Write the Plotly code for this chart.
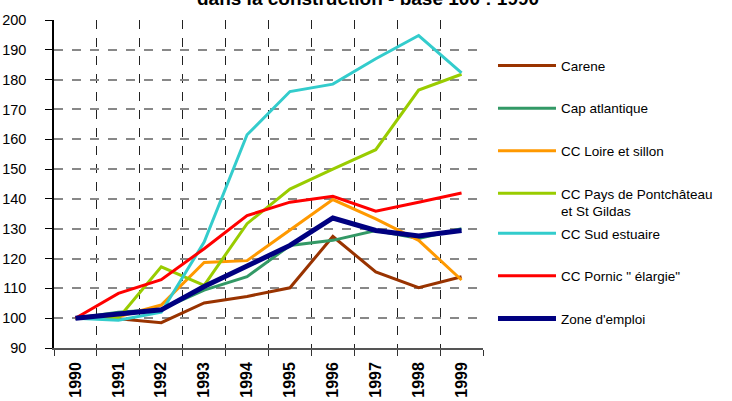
import plotly.graph_objects as go

years = ["1990", "1991", "1992", "1993", "1994", "1995", "1996", "1997", "1998", "1999"]

carene = [100, 99.8, 98.5, 105.1, 107.3, 110.2, 127.4, 115.5, 110.2, 113.9]
cap_atlantique = [100, 102.0, 103.0, 109.4, 113.9, 124.4, 126.1, 129.4, 126.7, 130.0]
loire_sillon = [100, 100.5, 104.4, 118.7, 119.3, 129.4, 139.8, 133.3, 126.1, 112.8]
pontchateau = [100, 100.0, 117.2, 111.0, 131.7, 143.3, 150.0, 156.5, 176.5, 181.8]
sud_estuaire = [100, 99.3, 102.0, 125.5, 161.5, 176.0, 178.5, 187.0, 194.8, 182.3]
pornic = [100, 108.3, 112.9, 123.3, 134.4, 138.9, 140.9, 135.9, 138.9, 142.0]
zone_emploi = [100, 101.4, 102.8, 110.6, 117.6, 124.4, 133.6, 129.4, 127.6, 129.4]

series = [
    ("Carene", carene, "#993300", 3, "legend"),
    ("Cap atlantique", cap_atlantique, "#339966", 3, "legend"),
    ("CC Loire et sillon", loire_sillon, "#FF9900", 3, "legend"),
    ("CC Pays de Pontchâteau<br>et St Gildas", pontchateau, "#99CC00", 3, "legend"),
    ("CC Sud estuaire", sud_estuaire, "#33CCCC", 3, "legend2"),
    ("CC Pornic \" élargie\"", pornic, "#FF0000", 3, "legend2"),
    ("Zone d'emploi", zone_emploi, "#000080", 5, "legend2"),
]

fig = go.Figure()
for i, (name, vals, color, w, lg) in enumerate(series):
    fig.add_trace(go.Scatter(
        x=years, y=vals, mode="lines", name=name,
        line=dict(color=color, width=w), legendgroup=f"g{i}", legend=lg,
    ))

font = "Liberation Sans, Arial, sans-serif"
leg_common = dict(
    xanchor="left", yanchor="top", tracegroupgap=22, itemwidth=58, valign="top",
    font=dict(family=font, size=13.5, color="black"), bgcolor="rgba(0,0,0,0)",
)
fig.update_layout(
    width=732, height=401,
    margin=dict(l=54, r=249, t=20, b=53, autoexpand=False),
    paper_bgcolor="white", plot_bgcolor="white",
    font=dict(family=font, size=13, color="black"),
    showlegend=True,
    legend=dict(x=1.0233, y=0.9075, **leg_common),
    legend2=dict(x=1.0233, y=0.3963, **leg_common),
    xaxis=dict(
        type="category", range=[-0.5, 9.5], tickson="boundaries",
        ticks="outside", ticklen=6, tickcolor="#333",
        showline=True, linecolor="#555", linewidth=1.5,
        showgrid=True, gridcolor="#222", griddash="dash", gridwidth=1,
        tickangle=-90, ticklabelstandoff=6,
        tickfont=dict(family=font, size=16, color="black", weight="bold"),
        automargin=False,
    ),
    yaxis=dict(
        range=[90, 200], dtick=10, tick0=90,
        ticks="outside", ticklen=7, tickcolor="black",
        showline=True, linecolor="black", linewidth=1.5,
        showgrid=True, gridcolor="#888", griddash="dash", gridwidth=1.5,
        ticklabelstandoff=16, zeroline=False, automargin=False,
        tickfont=dict(family=font, size=14.5, color="black"),
    ),
    annotations=[dict(
        text="<b>dans la construction - base 100 : 1990</b>",
        xref="paper", yref="paper", x=0.732, y=(401 - 53 + 1.5) / 328, xanchor="center", yanchor="middle",
        showarrow=False, font=dict(family=font, size=19, color="black"),
    )],
)

fig.write_html(
    "out.html",
    config={"displayModeBar": False},
    post_script="document.body.style.margin='0';document.body.style.overflow='hidden';",
)
